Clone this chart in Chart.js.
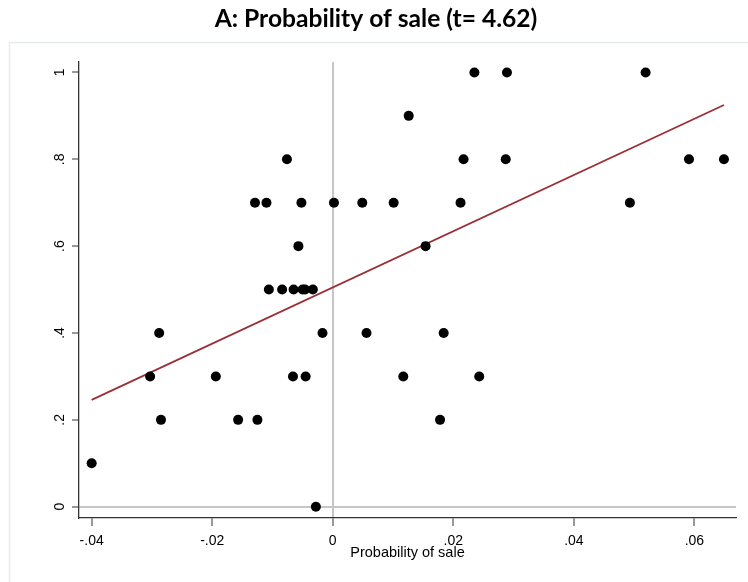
<!DOCTYPE html>
<html>
<head>
<meta charset="utf-8">
<script src="https://cdn.jsdelivr.net/npm/chart.js@4/dist/chart.umd.min.js"></script>
<style>
  html, body { margin: 0; padding: 0; background: #ffffff; }
  #wrap { width: 748px; height: 582px; position: relative; }
</style>
</head>
<body>
<div id="wrap"><canvas id="chart" width="748" height="582"></canvas></div>
<script>
// Change in probability of sale (x) against observed share sold (y)
const saleX = [
  -0.0400, -0.0303, -0.0288, -0.0285, -0.0194, -0.0157, -0.0129, -0.0125,
  -0.0110, -0.0106, -0.0084, -0.0076, -0.0066, -0.0065, -0.0057, -0.0052,
  -0.0050, -0.0046, -0.0045, -0.0033, -0.0028, -0.0017,  0.0002,  0.0049,
   0.0056,  0.0101,  0.0117,  0.0126,  0.0154,  0.0178,  0.0184,  0.0212,
   0.0217,  0.0235,  0.0243,  0.0287,  0.0289,  0.0493,  0.0519,  0.0591,
   0.0649
];
const saleY = [
  0.1, 0.3, 0.4, 0.2, 0.3, 0.2, 0.7, 0.2,
  0.7, 0.5, 0.5, 0.8, 0.3, 0.5, 0.6, 0.7,
  0.5, 0.5, 0.3, 0.5, 0.0, 0.4, 0.7, 0.7,
  0.4, 0.7, 0.3, 0.9, 0.6, 0.2, 0.4, 0.7,
  0.8, 1.0, 0.3, 0.8, 1.0, 0.7, 1.0, 0.8,
  0.8
];

// Linear fit, end points
const fitX = [-0.0400, 0.0649];
const fitY = [0.246, 0.925];

const xTickValues = [-0.04, -0.02, 0, 0.02, 0.04, 0.06];
const xTickLabels = ['-.04', '-.02', '0', '.02', '.04', '.06'];
const yTickValues = [0, 0.2, 0.4, 0.6, 0.8, 1];
const yTickLabels = ['0', '.2', '.4', '.6', '.8', '1'];

const AXIS_FONT = '"Liberation Sans", Arial, sans-serif';

const points = saleX.map((x, i) => ({ x: x, y: saleY[i] }));
const fitLine = fitX.map((x, i) => ({ x: x, y: fitY[i] }));

const zeroGrid = (ctx) => (ctx.tick && ctx.tick.value === 0) ? '#c6c6c6' : 'rgba(0,0,0,0)';

// White page with the faint outer frame
const framePlugin = {
  id: 'frame',
  beforeDraw(chart) {
    const c = chart.ctx;
    c.save();
    c.fillStyle = '#ffffff';
    c.fillRect(0, 0, chart.width, chart.height);
    c.strokeStyle = '#e6ecec';
    c.lineWidth = 1.5;
    c.beginPath();
    c.moveTo(9.5, chart.height);
    c.lineTo(9.5, 42.5);
    c.lineTo(chart.width, 42.5);
    c.stroke();
    c.restore();
  }
};

// Vertical (rotated) y tick labels
const yLabelPlugin = {
  id: 'yLabels',
  afterDraw(chart) {
    const ys = chart.scales.y;
    const c = chart.ctx;
    c.save();
    c.fillStyle = '#000000';
    c.font = '14px ' + AXIS_FONT;
    c.textAlign = 'center';
    c.textBaseline = 'middle';
    yTickValues.forEach((v, i) => {
      const py = ys.getPixelForValue(v);
      c.save();
      c.translate(60, py);
      c.rotate(-Math.PI / 2);
      c.fillText(yTickLabels[i], 0, 0);
      c.restore();
    });
    c.restore();
  }
};

new Chart(document.getElementById('chart'), {
  type: 'scatter',
  data: {
    datasets: [
      {
        label: 'Probability of sale',
        data: points,
        backgroundColor: '#000000',
        borderColor: '#000000',
        pointRadius: 5,
        pointHoverRadius: 5,
        borderWidth: 0
      },
      {
        type: 'line',
        label: 'Fitted values',
        data: fitLine,
        borderColor: '#9a2f36',
        borderWidth: 1.8,
        pointRadius: 0,
        fill: false,
        tension: 0
      }
    ]
  },
  options: {
    responsive: false,
    animation: false,
    devicePixelRatio: 1,
    layout: { padding: { left: 16, right: 12, top: 0, bottom: 0 } },
    plugins: {
      legend: { display: false },
      tooltip: { enabled: false },
      title: {
        display: true,
        text: 'A: Probability of sale (t= 4.62)',
        color: '#000000',
        font: { family: 'Lato, "Open Sans", sans-serif', size: 24.6, weight: 'bold' },
        padding: { top: 4.5, bottom: 28 }
      }
    },
    scales: {
      x: {
        type: 'linear',
        position: 'bottom',
        min: -0.0421,
        max: 0.0669,
        afterBuildTicks: (s) => { s.ticks = xTickValues.map(v => ({ value: v })); },
        afterFit: (s) => { s.height = 64; },
        ticks: {
          autoSkip: false,
          maxRotation: 0,
          minRotation: 0,
          padding: 7,
          color: '#000000',
          font: { family: AXIS_FONT, size: 14 },
          callback: (v, i) => xTickLabels[i]
        },
        grid: {
          color: zeroGrid,
          lineWidth: 2,
          drawTicks: true,
          tickLength: 8,
          tickColor: '#555555',
          tickWidth: 1.2
        },
        border: { display: true, color: '#333333', width: 1.3 },
        title: {
          display: true,
          text: 'Probability of sale',
          color: '#000000',
          font: { family: AXIS_FONT, size: 14.5 },
          padding: { top: 0, bottom: 20 }
        }
      },
      y: {
        type: 'linear',
        min: -0.026,
        max: 1.024,
        afterBuildTicks: (s) => { s.ticks = yTickValues.map(v => ({ value: v })); },
        afterFit: (s) => { s.width = 63; },
        ticks: { display: false },
        grid: {
          color: zeroGrid,
          lineWidth: 2,
          drawTicks: true,
          tickLength: 7,
          tickColor: '#555555',
          tickWidth: 1.2
        },
        border: { display: true, color: '#333333', width: 1.3 }
      }
    }
  },
  plugins: [framePlugin, yLabelPlugin]
});
</script>
</body>
</html>
